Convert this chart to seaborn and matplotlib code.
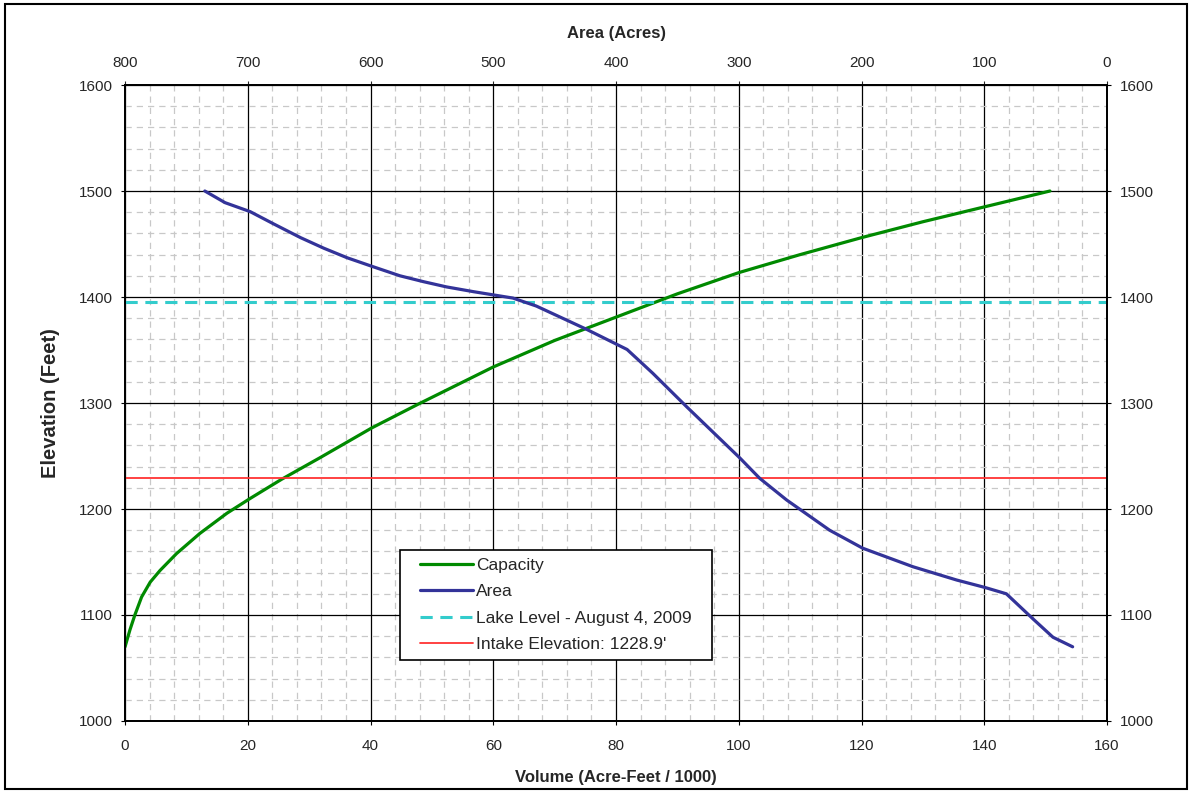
# Elevation / capacity / area curves for the reservoir

import numpy as np
import pandas as pd
import matplotlib
matplotlib.use("Agg")
import matplotlib.pyplot as plt
import seaborn as sns
from matplotlib.ticker import MultipleLocator
from matplotlib.patches import Rectangle

# -------------------------------
# Data
# -------------------------------
cap_volume = [0, 0.8, 1.6, 2.7, 4.1, 5.7, 8.4, 12.2, 16.6, 20.4, 25.5, 31.8, 40.2, 47.8,
              60, 70, 80, 85, 90, 100, 110, 120, 130, 140, 150.7]
cap_elev = [1070, 1086, 1100, 1117, 1131, 1142, 1158, 1177, 1196, 1210, 1228, 1248.5, 1276.5,
            1299, 1334, 1359, 1381, 1392, 1403, 1423, 1440, 1456, 1471, 1485, 1500]

area_acres = [735, 718.5, 698, 679, 657, 638, 619, 599, 576, 557, 538, 516, 500, 484, 465,
              424, 391, 370, 342.5, 299, 283, 261, 226, 199, 158, 122.5, 99.5, 82, 60, 44, 28]
area_elev = [1500, 1489, 1480.5, 1469, 1456, 1446, 1437, 1429, 1420, 1414.5, 1409.5, 1405,
             1402, 1399, 1391.5, 1369.5, 1350.5, 1328, 1296.5, 1248, 1229, 1208.5, 1180,
             1163, 1145.5, 1133, 1126, 1120, 1096, 1079, 1070]

lake_level = 1395
intake_elev = 1228.9

cap_df = pd.DataFrame({"Volume": cap_volume, "Elevation": cap_elev})
area_df = pd.DataFrame({"Area": area_acres, "Elevation": area_elev})

# -------------------------------
# Figure setup
# -------------------------------
sns.set_style("white")
plt.rcParams['font.family'] = ['Liberation Sans', 'DejaVu Sans']

fig = plt.figure(figsize=(11.92, 7.93), dpi=100)
ax = fig.add_axes([0.1049, 0.0908, 0.8238, 0.802])

# outer border around the whole chart
fig.patches.append(Rectangle((0.004, 0.005), 0.992, 0.99, transform=fig.transFigure,
                             fill=False, edgecolor="black", linewidth=1.5))

# grid
ax.set_xlim(0, 160)
ax.set_ylim(1000, 1600)
ax.xaxis.set_major_locator(MultipleLocator(20))
ax.xaxis.set_minor_locator(MultipleLocator(4))
ax.yaxis.set_major_locator(MultipleLocator(100))
ax.yaxis.set_minor_locator(MultipleLocator(20))
ax.grid(which="major", color="black", linewidth=0.9, linestyle="-")
ax.grid(which="minor", color="#c8c8c8", linewidth=0.9, linestyle=(0, (5, 4)))
ax.set_axisbelow(True)

# capacity + reference lines on main axes
sns.lineplot(data=cap_df, x="Volume", y="Elevation", sort=False, color="#008a00",
             linewidth=2.3, ax=ax, label="Capacity")
l_lake = ax.axhline(lake_level, color="#33cccc", linewidth=2.2, linestyle=(0, (4, 2.5)),
                    label="Lake Level - August 4, 2009")
l_intake = ax.axhline(intake_elev, color="#ff3333", linewidth=1.3,
                      label="Intake Elevation: 1228.9'")

# area curve on top axis
ax2 = ax.twiny()
ax2.set_xlim(800, 0)
ax2.xaxis.set_major_locator(MultipleLocator(100))
sns.lineplot(data=area_df, x="Area", y="Elevation", sort=False, color="#333399",
             linewidth=2.3, ax=ax2, label="Area")

# -------------------------------
# Axes / labels
# -------------------------------
for a in (ax, ax2):
    for s in a.spines.values():
        s.set_color("black")
        s.set_linewidth(1.3)

ax.tick_params(axis="both", which="major", labelsize=11, length=3, color="black",
               direction="out")
ax.tick_params(axis="both", which="minor", length=0)
ax.tick_params(axis="y", left=True, right=True, labelleft=True, labelright=True, pad=6)
ax.tick_params(axis="x", bottom=True, pad=10)
ax2.tick_params(axis="x", labelsize=11, length=3, direction="out", pad=8)

ax.set_xlabel("Volume (Acre-Feet / 1000)", fontsize=12, fontweight="bold", labelpad=12)
ax.set_ylabel("Elevation (Feet)", fontsize=14.5, fontweight="bold", labelpad=13)
ax2.set_xlabel("Area (Acres)", fontsize=12, fontweight="bold", labelpad=13)

# legend box + legend
h1, lab1 = ax.get_legend_handles_labels()
h2, lab2 = ax2.get_legend_handles_labels()
handles = [h1[0], h2[0], l_lake, l_intake]
labels = ["Capacity", "Area", "Lake Level - August 4, 2009", "Intake Elevation: 1228.9'"]
ax.get_legend().remove()
ax2.get_legend().remove()
ax2.add_patch(Rectangle((0.28, 0.096), 0.3177, 0.173, transform=ax2.transAxes,
                        facecolor="white", edgecolor="black", linewidth=1.2, zorder=4))
leg = ax2.legend(handles, labels, loc="center", bbox_to_anchor=(0.4389, 0.1824),
                 fontsize=12.5, frameon=False, borderpad=0.2, handlelength=3.0,
                 handletextpad=0.2, labelspacing=0.66, borderaxespad=0)
leg.set_zorder(5)

fig.savefig("out.png", dpi=100)
